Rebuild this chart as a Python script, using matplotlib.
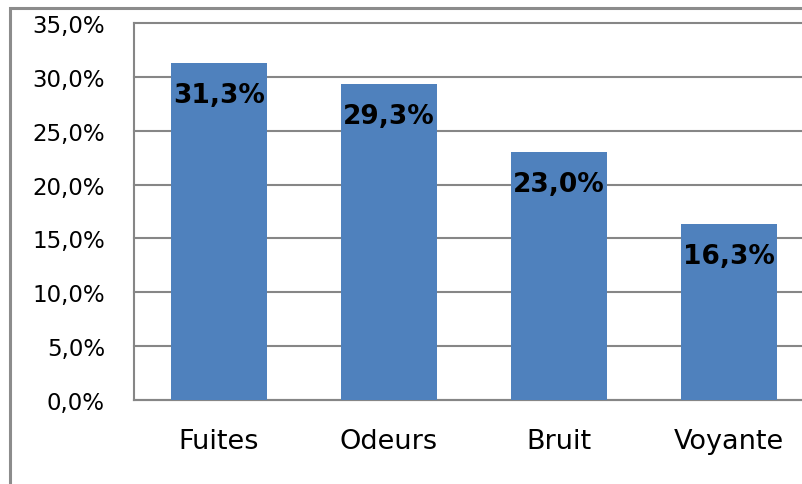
import matplotlib.pyplot as plt
from matplotlib.patches import Rectangle
import numpy as np

categories = ["Fuites", "Odeurs", "Bruit", "Voyante"]
values = [31.3, 29.3, 23.0, 16.3]
yticks = [0, 5, 10, 15, 20, 25, 30, 35]

fig = plt.figure(figsize=(8.02, 4.85), dpi=100)
W, H = 802, 485

# cadre extérieur (coupé à droite et en bas)
fig.patches.append(Rectangle((10 / W, -0.1), 1.2, 1 - 9 / H + 0.1, transform=fig.transFigure,
                             fill=False, edgecolor="#8c8c8c", linewidth=2.2))

ax = fig.add_axes([134 / W, 1 - 401 / H, 680 / W, 377 / H])
x = np.arange(len(categories))
ax.bar(x, values, width=0.565, color="#4F81BD", zorder=3)
ax.set_xlim(-0.5, 3.5)
ax.set_ylim(0, 35)
ax.set_yticks(yticks)
ax.set_yticklabels([f"{v:.1f}%".replace(".", ",") for v in yticks], fontsize=16.5)
ax.set_xticks(x)
ax.set_xticklabels(categories, fontsize=19.5)
ax.tick_params(axis="both", length=0)
ax.tick_params(axis="y", pad=21)
ax.tick_params(axis="x", pad=20)
ax.grid(axis="y", color="#868686", linewidth=1.5, zorder=0)
for line in ax.get_ygridlines():
    line.set_clip_on(False)
for s in ["top", "right"]:
    ax.spines[s].set_visible(False)
for s in ["left", "bottom"]:
    ax.spines[s].set_color("#868686")
    ax.spines[s].set_linewidth(1.5)

for xi, v in zip(x, values):
    ax.annotate(f"{v:.1f}%".replace(".", ","), (xi, v), xytext=(0, -23), textcoords="offset points",
                ha="center", va="center", fontsize=19, fontweight="bold", color="black", zorder=4)

fig.savefig("out.png", dpi=100)
